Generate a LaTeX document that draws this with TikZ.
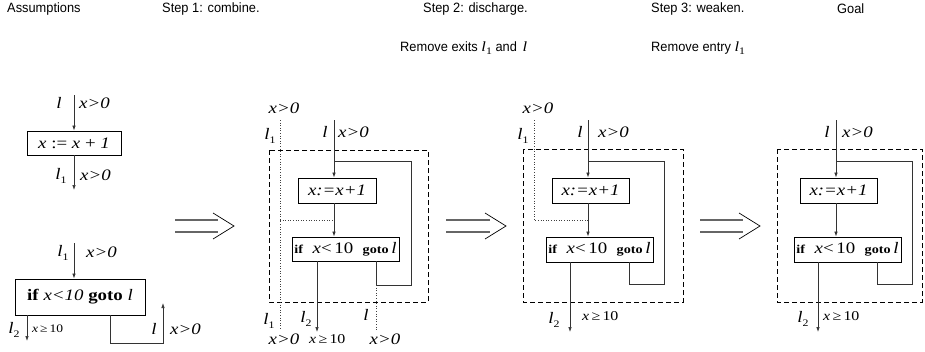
\documentclass[tikz,border=0pt]{standalone}
\usepackage{fontspec}
\setmainfont[FakeStretch=1.18]{Liberation Serif}
\newfontfamily\hdr[FakeStretch=0.95]{Liberation Sans}
\usetikzlibrary{arrows.meta}
\newcommand\sbs[1]{\raisebox{-0.45ex}{\fontsize{10}{10}\selectfont #1}}
\newcommand\labl[1]{\textit{l}\sbs{#1}}
\begin{document}
\begin{tikzpicture}[x=1pt,y=-1pt,
  font=\fontsize{16}{16}\selectfont,
  wire/.style={line width=0.7pt, black!80},
  arr/.style={wire,-{Latex[length=5pt,width=3.5pt]}},
  dotl/.style={line width=0.6pt, dotted, black!75},
  frame/.style={line width=0.8pt, dash pattern=on 5pt off 3pt},
  box/.style={draw, line width=0.8pt, inner sep=0},
  hd/.style={anchor=west, font=\hdr\fontsize{13.5}{13.5}\selectfont, inner sep=0},
  lb/.style={inner sep=0},
  lw/.style={inner sep=0, anchor=west},
  dbl/.style={line width=1.1pt, black!60},
  chev/.style={line width=0.7pt}]
\useasboundingbox (0,0) rectangle (925,351);

% headers
\node[hd] (h1) at (7,9) {Assumptions};
\node[hd] (h2) at (162,9) {Step 1: combine.};
\node[hd] (h3) at (423,9) {Step 2: discharge.};
\node[hd] (h4) at (651,9) {Step 3: weaken.};
\node[hd] (h5) at (837,9) {Goal};
\node[hd] (h6) at (400,48) {Remove exits {\rmfamily\fontsize{14}{14}\selectfont\labl{1}} and\, {\rmfamily\fontsize{14}{14}\selectfont\textit{l}}};
\node[hd] (h7) at (651,48) {Remove entry {\rmfamily\fontsize{14}{14}\selectfont\labl{1}}};

% ---------- Assumption 1
\node[box, minimum width=94pt, minimum height=24pt] (a1) at (74,143) {\textit{x} := \textit{x} + \textit{1}};
\coordinate (a1in) at (74,95);
\coordinate (a1out) at (74,190);
\draw[arr] (a1in) -- (a1.north);
\draw[arr] (a1.south) -- (a1out);
\node[lb] (a1l) at (59,103) {\textit{l}};
\node[lw] (a1c) at (79,103) {\textit{x>0}};
\node[lb] (a1l1) at (61,176) {\labl{1}};
\node[lw] (a1c1) at (80,175) {\textit{x>0}};

% ---------- Assumption 2
\node[box, minimum width=130pt, minimum height=36pt] (a2) at (80,297) {\textbf{if} \textit{x<10} \textbf{goto} \textit{l}};
\coordinate (a2in) at (74,243);
\coordinate (a2ex) at (27,341);
\coordinate (a2b) at (110,343);
\coordinate (a2c) at (163,343);
\coordinate (a2t) at (163,303);
\draw[arr] (a2in) -- (a2in |- a2.north);
\draw[arr] (a2ex |- a2.south) -- (a2ex);
\draw[arr] (a2b |- a2.south) -- (a2b) -- (a2c) -- (a2t);
\node[lb] (a2l1) at (63,253) {\labl{1}};
\node[lw] (a2c1) at (86,252) {\textit{x>0}};
\node[lb] (a2l2) at (14,330) {\labl{2}};
\node[lw] (a2c2) at (32,329) {\fontsize{11.5}{11.5}\selectfont\textit{x}\,≥\,10};
\node[lb] (a2l) at (154,329) {\textit{l}};
\node[lw] (a2c3) at (170,329) {\textit{x>0}};

% ---------- double arrows
\foreach \i/\a/\b/\c/\d in {1/175/218/213/234, 2/446/490/485/506, 3/700/743/739/760} {
  \draw[dbl] (\a,220) -- (\b,220);
  \draw[dbl] (\a,232) -- (\b,232);
  \draw[chev] (\c,213) -- (\d,226) -- (\c,239);
}

% ---------- Step 1
\draw[frame] (269,150) rectangle (428,302);
\node[box, minimum width=78pt, minimum height=25pt] (s1a) at (337,190.5) {\textit{x:=x+1}};
\node[box, minimum width=107pt, minimum height=24pt] (s1b) at (345.5,249) {{\fontsize{12}{12}\selectfont\textbf{if}}\ \ \textit{x}<\,10\ \ {\fontsize{12}{12}\selectfont\textbf{goto}}\,\textit{l}};
\coordinate (s1in) at (334,120);
\coordinate (s1j) at (334,161);
\coordinate (s1r) at (411,161);
\coordinate (s1rb) at (411,285);
\coordinate (s1lb) at (376,285);
\coordinate (s1lx) at (376,330);
\coordinate (s1ex) at (317,332);
\coordinate (s1dt) at (280,120);
\coordinate (s1dm) at (280,220);
\coordinate (s1dh) at (334,220);
\coordinate (s1db) at (280,330);
\draw[arr] (s1in) -- (s1in |- s1a.north);
\draw[arr] (s1in |- s1a.south) -- (s1in |- s1b.north);
\draw[wire] (s1j) -- (s1r) -- (s1rb) -- (s1lb) -- (s1lb |- s1b.south);
\draw[arr] (s1ex |- s1b.south) -- (s1ex);
\draw[dotl] (s1dt) -- (s1db);
\draw[dotl] (s1dm) -- (s1dh);
\draw[dotl] (s1lb) -- (s1lx);
\node[lb] (s1t0) at (284,108) {\textit{x>0}};
\node[lb] (s1t1) at (270,136) {\labl{1}};
\node[lb] (s1t2) at (325,132) {\textit{l}};
\node[lw] (s1t3) at (338,132) {\textit{x>0}};
\node[lb] (s1b1) at (269,321) {\labl{1}};
\node[lb] (s1b2) at (306,319) {\labl{2}};
\node[lb] (s1b3) at (366,315) {\textit{l}};
\node[lb] (s1b4) at (284,339) {\textit{x>0}};
\node[lw] (s1b5) at (309,339) {\fontsize{13.5}{13.5}\selectfont\textit{x}\,≥\,10};
\node[lb] (s1b6) at (385,339) {\textit{x>0}};

% ---------- Step 2
\draw[frame] (523,149) rectangle (683,302);
\node[box, minimum width=77pt, minimum height=25pt] (s2a) at (590.5,190.5) {\textit{x:=x+1}};
\node[box, minimum width=107pt, minimum height=25pt] (s2b) at (599.5,249.5) {{\fontsize{12}{12}\selectfont\textbf{if}}\ \ \textit{x}<\,10\ \ {\fontsize{12}{12}\selectfont\textbf{goto}}\,\textit{l}};
\coordinate (s2in) at (588,120);
\coordinate (s2j) at (588,161);
\coordinate (s2r) at (664,161);
\coordinate (s2rb) at (664,284);
\coordinate (s2lb) at (629,284);
\coordinate (s2ex) at (570,332);
\coordinate (s2dt) at (534,120);
\coordinate (s2dm) at (534,220);
\coordinate (s2dh) at (588,220);
\draw[arr] (s2in) -- (s2in |- s2a.north);
\draw[arr] (s2in |- s2a.south) -- (s2in |- s2b.north);
\draw[wire] (s2j) -- (s2r) -- (s2rb) -- (s2lb) -- (s2lb |- s2b.south);
\draw[arr] (s2ex |- s2b.south) -- (s2ex);
\draw[dotl] (s2dt) -- (s2dm) -- (s2dh);
\node[lb] (s2t0) at (538,108) {\textit{x>0}};
\node[lb] (s2t1) at (523,136) {\labl{1}};
\node[lb] (s2t2) at (580,132) {\textit{l}};
\node[lw] (s2t3) at (598,132) {\textit{x>0}};
\node[lb] (s2b1) at (554,320) {\labl{2}};
\node[lw] (s2b2) at (582,316) {\fontsize{13.5}{13.5}\selectfont\textit{x}\,≥\,10};

% ---------- Step 3 (goal)
\draw[frame] (777,149) rectangle (922,302);
\node[box, minimum width=77pt, minimum height=25pt] (s3a) at (838.5,190.5) {\textit{x:=x+1}};
\node[box, minimum width=107pt, minimum height=25pt] (s3b) at (847.5,249.5) {{\fontsize{12}{12}\selectfont\textbf{if}}\ \ \textit{x}<\,10\ \ {\fontsize{12}{12}\selectfont\textbf{goto}}\,\textit{l}};
\coordinate (s3in) at (836,120);
\coordinate (s3j) at (836,161);
\coordinate (s3r) at (912,161);
\coordinate (s3rb) at (912,284);
\coordinate (s3lb) at (877,284);
\coordinate (s3ex) at (818,332);
\draw[arr] (s3in) -- (s3in |- s3a.north);
\draw[arr] (s3in |- s3a.south) -- (s3in |- s3b.north);
\draw[wire] (s3j) -- (s3r) -- (s3rb) -- (s3lb) -- (s3lb |- s3b.south);
\draw[arr] (s3ex |- s3b.south) -- (s3ex);
\node[lb] (s3t2) at (827,132) {\textit{l}};
\node[lw] (s3t3) at (842,132) {\textit{x>0}};
\node[lb] (s3b1) at (803,319) {\labl{2}};
\node[lw] (s3b2) at (823,316) {\fontsize{13.5}{13.5}\selectfont\textit{x}\,≥\,10};
\end{tikzpicture}
\end{document}
